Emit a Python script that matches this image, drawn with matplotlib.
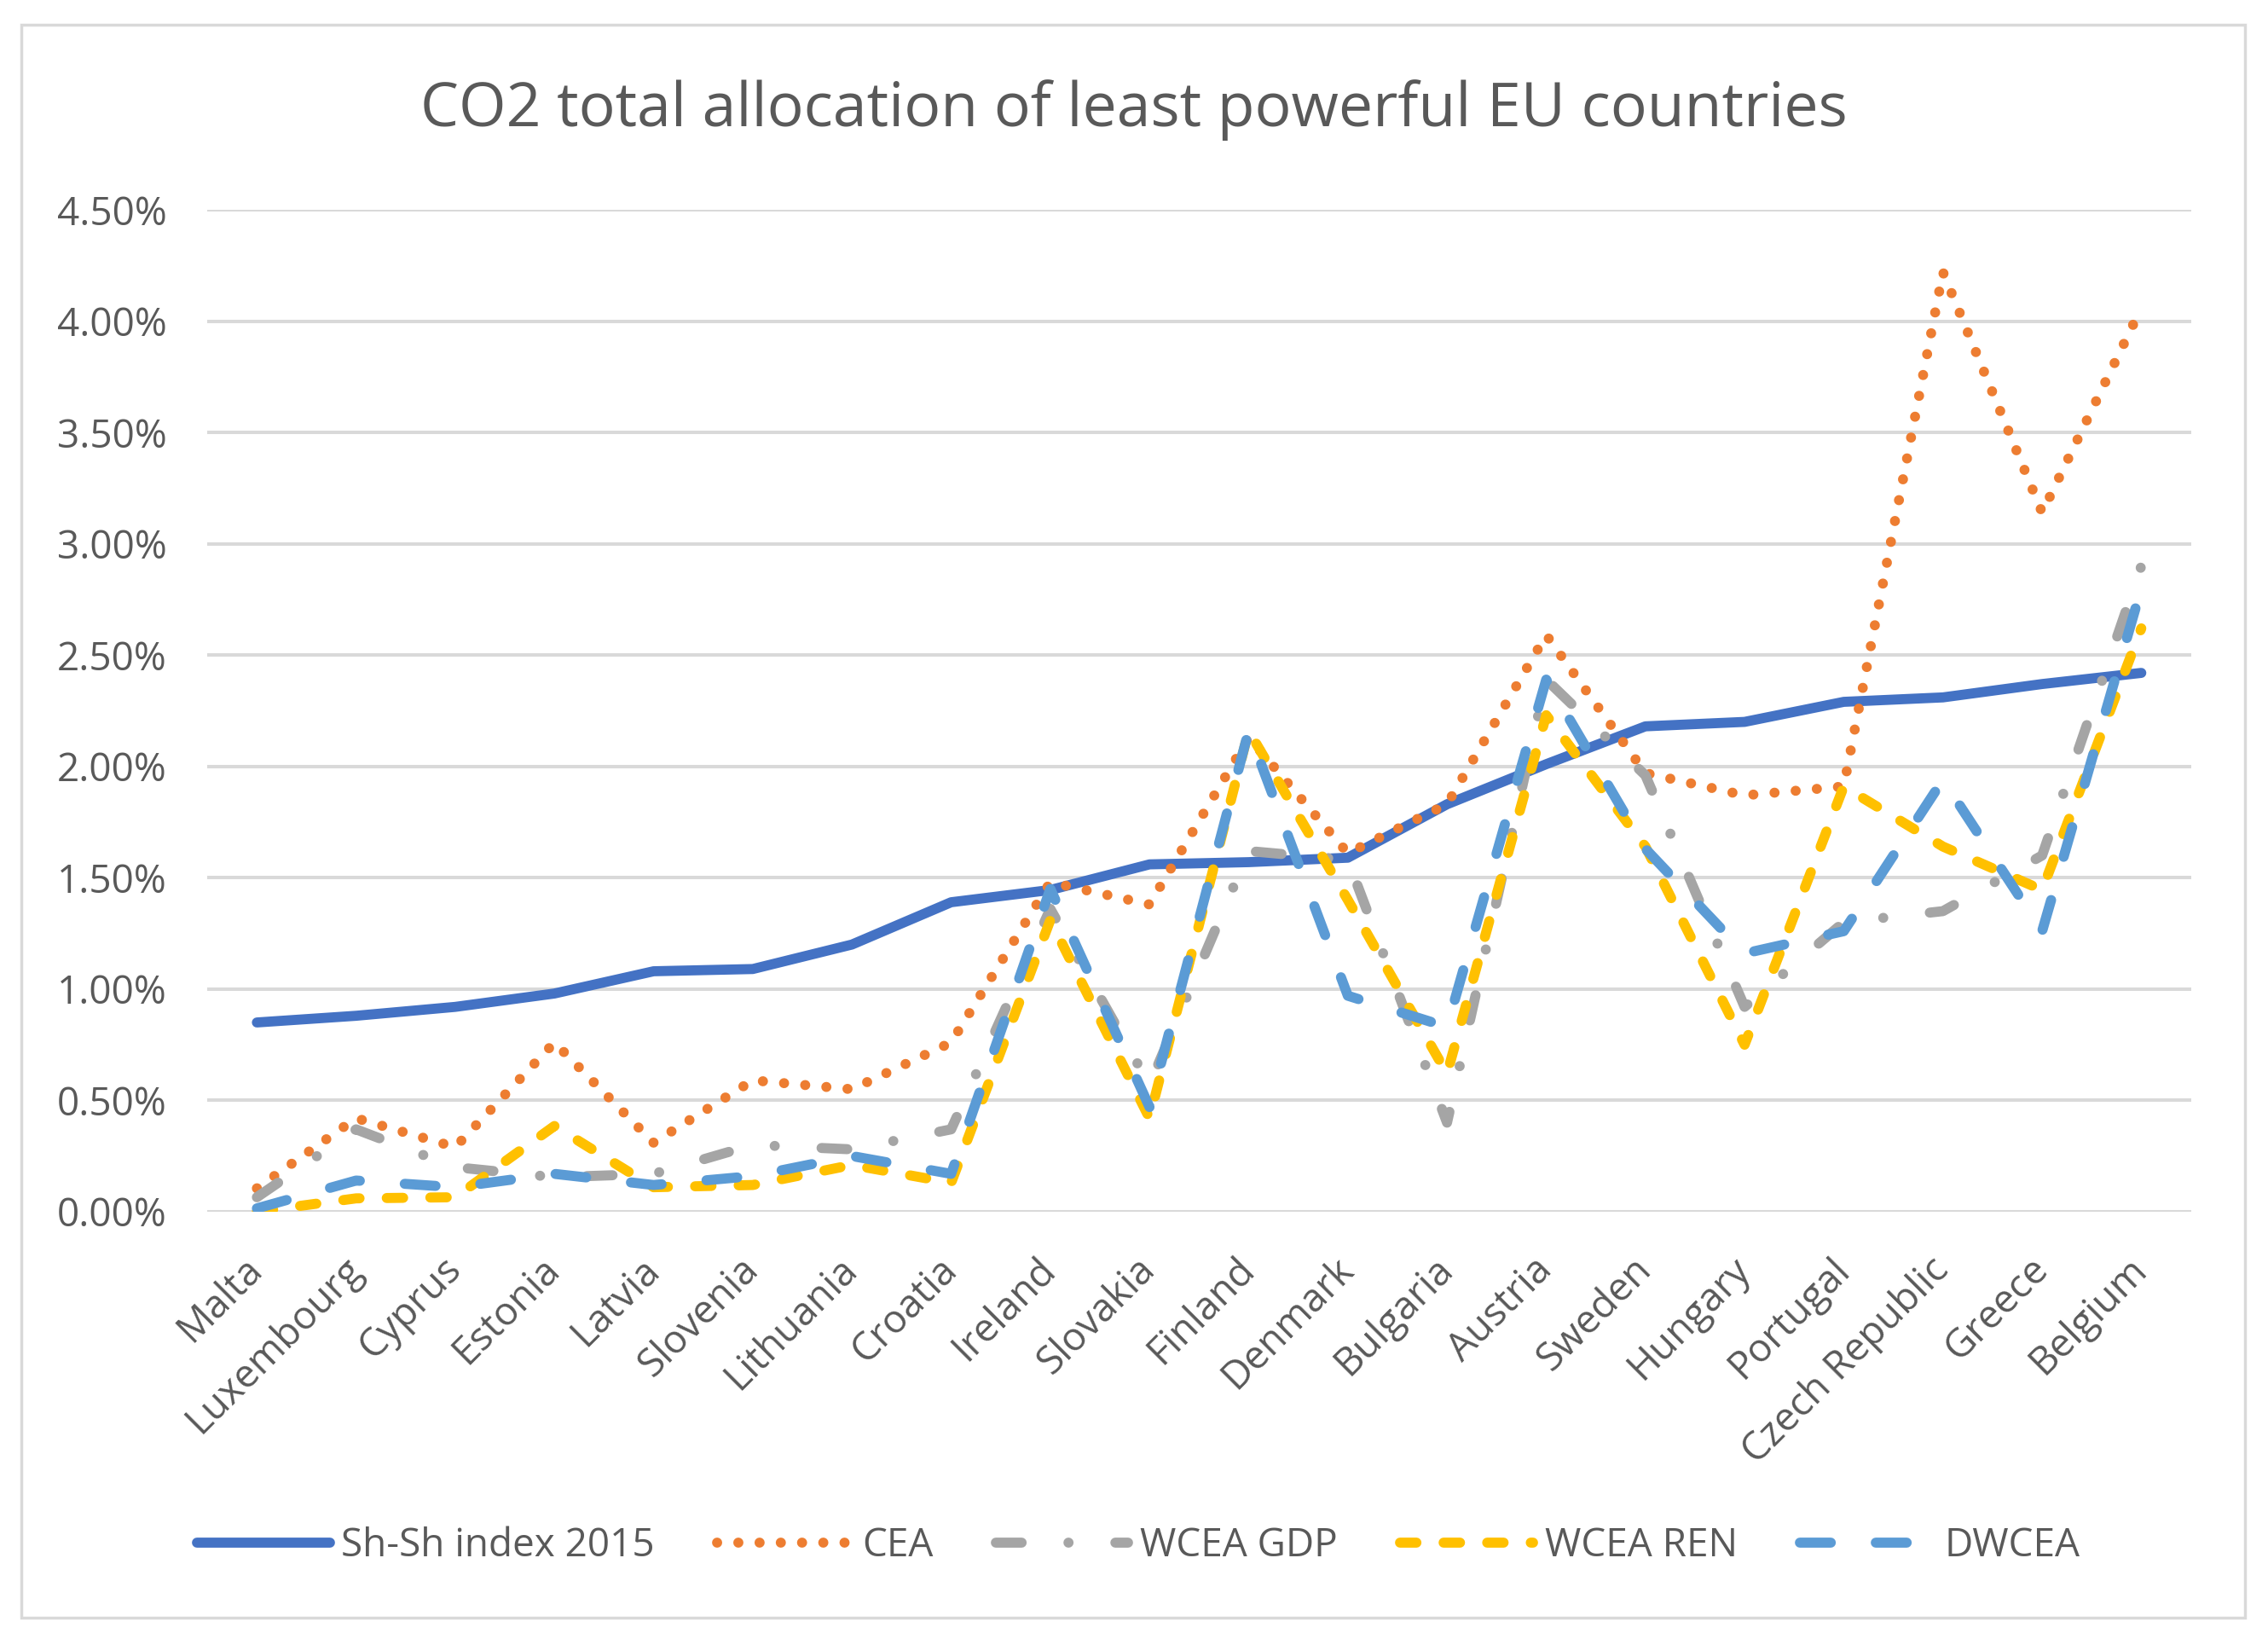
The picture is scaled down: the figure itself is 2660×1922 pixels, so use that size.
import matplotlib
matplotlib.use("Agg")
import matplotlib.pyplot as plt
from matplotlib.patches import Rectangle
import numpy as np

plt.rcParams['font.family'] = ['Open Sans', 'DejaVu Sans']

# Daten (Anteile in %)
countries = ["Malta", "Luxembourg", "Cyprus", "Estonia", "Latvia", "Slovenia",
             "Lithuania", "Croatia", "Ireland", "Slovakia", "Finland", "Denmark",
             "Bulgaria", "Austria", "Sweden", "Hungary", "Portugal",
             "Czech Republic", "Greece", "Belgium"]
shsh = [0.85, 0.88, 0.92, 0.98, 1.08, 1.09, 1.20, 1.39, 1.445, 1.56,
        1.57, 1.59, 1.83, 2.01, 2.18, 2.20, 2.29, 2.31, 2.37, 2.42]
cea = [0.105, 0.42, 0.29, 0.76, 0.31, 0.59, 0.55, 0.76, 1.48, 1.38,
       2.13, 1.61, 1.83, 2.59, 1.97, 1.87, 1.91, 4.22, 3.14, 4.06]
wcea_gdp = [0.065, 0.37, 0.20, 0.155, 0.17, 0.30, 0.28, 0.37, 1.36, 0.57,
            1.62, 1.58, 0.40, 2.39, 1.96, 0.92, 1.30, 1.35, 1.60, 2.90]
wcea_ren = [0.0, 0.06, 0.065, 0.385, 0.11, 0.12, 0.21, 0.13, 1.31, 0.42,
            2.16, 1.40, 0.62, 2.23, 1.64, 0.75, 1.91, 1.64, 1.445, 2.62]
dwcea = [0.015, 0.14, 0.11, 0.17, 0.12, 0.16, 0.25, 0.17, 1.45, 0.47,
         2.16, 0.97, 0.83, 2.39, 1.63, 1.16, 1.26, 1.94, 1.26, 2.80]
yticks = [0, 0.5, 1.0, 1.5, 2.0, 2.5, 3.0, 3.5, 4.0, 4.5]

txt = '#595959'
lw = 8.5

fig = plt.figure(figsize=(26.6, 19.22), dpi=100)
ax = fig.add_axes([0.0914, 0.2607, 0.8746, 0.6113])
x = np.arange(len(countries))

ax.plot(x, shsh, color='#4472C4', lw=lw, solid_capstyle='round', solid_joinstyle='round',
        label='Sh-Sh index 2015', zorder=3)
ax.plot(x, cea, color='#ED7D31', lw=lw, linestyle=(0, (0.01, 2.1)),
        dash_capstyle='round', label='CEA', zorder=4)
ax.plot(x, wcea_gdp, color='#A5A5A5', lw=lw, linestyle=(0, (2.56, 4.65, 0.01, 4.65)),
        dash_capstyle='round', label='WCEA GDP', zorder=5)
ax.plot(x, wcea_ren, color='#FFC000', lw=lw, linestyle=(0, (1.63, 2.7)),
        dash_capstyle='round', label='WCEA REN', zorder=6)
ax.plot(x, dwcea, color='#5B9BD5', lw=lw, linestyle=(0, (3.07, 4.47)),
        dash_capstyle='round', label='DWCEA', zorder=7)

ax.set_xlim(-0.5, len(countries) - 0.5)
ax.set_ylim(0, 4.5)
ax.set_yticks(yticks)
ax.set_yticklabels(["%.2f%%" % v for v in yticks], fontsize=33, color=txt)
ax.set_xticks(x)
ax.set_xticklabels(countries, fontsize=33, color=txt, rotation=45,
                   ha='right', va='center', rotation_mode='anchor')
ax.tick_params(axis='y', length=0, pad=34)
ax.tick_params(axis='x', length=0, pad=44)
ax.grid(axis='y', color='#D9D9D9', lw=2.9, zorder=0)
ax.set_axisbelow(True)
for s in ax.spines.values():
    s.set_visible(False)

fig.text(0.5, 0.933, "CO2 total allocation of least powerful EU countries",
         ha='center', va='center', fontsize=51.5, color=txt)

leg = fig.legend(loc='center', bbox_to_anchor=(0.502, 0.0567), ncol=5, frameon=False,
                 fontsize=33, handlelength=3.4, handletextpad=0.3, columnspacing=1.6)
for t in leg.get_texts():
    t.set_color(txt)

fig.patches.append(Rectangle((0.0094, 0.013), 0.9806, 0.972, transform=fig.transFigure,
                             fill=False, edgecolor='#D9D9D9', lw=2.5))

fig.savefig("out.png", dpi=100)
